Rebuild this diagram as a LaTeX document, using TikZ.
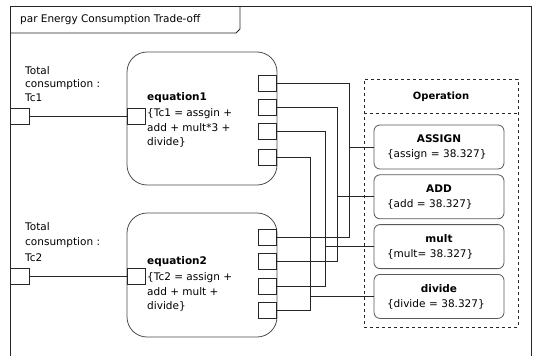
\documentclass[tikz,border=0pt]{standalone}
\usepackage{fontspec}
\setmainfont{DejaVu Sans}
\usepackage{tikz}
\usetikzlibrary{positioning}

\newcommand{\optitle}[1]{\makebox[104pt]{\bfseries #1}}

\begin{document}
\begin{tikzpicture}[
    x = 1pt, y = -1pt,
    font = \fontsize{10.5}{14.5}\selectfont,
    node distance = 5pt,
    frameline/.style = {line width=0.8pt, black!85},
    eqbox/.style  = {draw=black!70, line width=0.8pt,
                     rounded corners=20pt,
                     minimum width=150pt, minimum height=133pt},
    eqtext/.style = {anchor=north west, align=left,
                     inner sep=0pt},
    port/.style   = {draw=black!85, fill=white, line width=0.8pt,
                     minimum width=18pt, minimum height=16pt,
                     inner sep=0pt},
    opframe/.style = {draw=black!85, dashed, line width=0.8pt,
                      minimum width=154pt, minimum height=248pt},
    opbox/.style  = {draw=black!65, line width=0.8pt,
                     rounded corners=6pt, fill=white,
                     text width=104pt, align=left,
                     minimum width=130pt, minimum height=44pt,
                     inner xsep=13pt, inner ysep=0pt,
                     font=\fontsize{10.5}{15}\selectfont},
    wire/.style   = {line width=0.8pt, black!85}
]
\useasboundingbox (0,0) rectangle (535,356);

%% Frame
\draw[frameline] (10,356) -- (10,6) -- (531,6) -- (531,356);
\draw[frameline] (10,33) -- (236,33) -- (240,29) -- (240,6);
\node[anchor=west, inner sep=0pt] (title) at (20,19.5)
    {par Energy Consumption Trade-off};

%% Frame ports
\node[port, minimum width=19pt] (fp1) at (20,116) {};
\node[port, minimum width=19pt] (fp2) at (20,276) {};
\node[eqtext, font=\fontsize{10.5}{13.5}\selectfont] (tc1) at (25,66)
    {Total\\consumption :\\Tc1};
\node[eqtext, font=\fontsize{10.5}{15.5}\selectfont] (tc2) at (25,222)
    {Total\\consumption :\\Tc2};

%% Equation 1
\node[eqbox] (eq1) at (202,118.5) {};
\node[eqtext] (eq1txt) at (147,92)
    {\textbf{equation1}\\[2pt]\{Tc1 = assgin +\\add + mult*3 +\\divide\}};
\node[port] (eq1in) at (136,116) {};
\node[port] (eq1o1) at (267,83) {};
\node[port] (eq1o2) at (267,107) {};
\node[port] (eq1o3) at (267,131) {};
\node[port] (eq1o4) at (267,157) {};

%% Equation 2
\node[eqbox, minimum height=124pt] (eq2) at (202,275) {};
\node[eqtext] (eq2txt) at (147,256)
    {\textbf{equation2}\\[2pt]\{Tc2 = assign +\\add + mult +\\divide\}};
\node[port] (eq2in) at (136,276) {};
\node[port] (eq2o1) at (267,237) {};
\node[port] (eq2o2) at (267,261) {};
\node[port] (eq2o3) at (267,286) {};
\node[port] (eq2o4) at (267,310) {};

%% Operation
\node[opframe] (ops) at (441,203) {};
\node[font=\bfseries] (ophead) at (441,97) {Operation};
\draw[frameline, dashed] ([yshift=-35pt]ops.north west)
    -- ([yshift=-35pt]ops.north east);

\node[opbox] (assign) at (439,147)
    {\optitle{ASSIGN}\\\{assign = 38.327\}};
\node[opbox, below=of assign] (add)
    {\optitle{ADD}\\\{add = 38.327\}};
\node[opbox, below=of add] (mult)
    {\optitle{mult}\\\{mult= 38.327\}};
\node[opbox, below=of mult] (divide)
    {\optitle{divide}\\\{divide = 38.327\}};

%% Bus lines
\coordinate (busassign) at (349,0);
\coordinate (busadd)    at (337,0);
\coordinate (busmult)   at (325,0);
\coordinate (busdivide) at (310,0);

%% Wires
\draw[wire] (fp1) -- (eq1in);
\draw[wire] (fp2) -- (eq2in);

\draw[wire] (eq1o1.east) -| (busassign |- eq2o1) -- (eq2o1.east);
\draw[wire] (eq1o2.east) -| (busadd |- eq2o2)    -- (eq2o2.east);
\draw[wire] (eq1o3.east) -| (busmult |- eq2o3)   -- (eq2o3.east);
\draw[wire] (eq1o4.east) -| (busdivide |- eq2o4) -- (eq2o4.east);

\draw[wire] (assign.west) -- (assign.west -| busassign);
\draw[wire] (add.west)    -- (add.west -| busadd);
\draw[wire] (mult.west)   -- (mult.west -| busmult);
\draw[wire] (divide.west) -- (divide.west -| busdivide);
\end{tikzpicture}
\end{document}
